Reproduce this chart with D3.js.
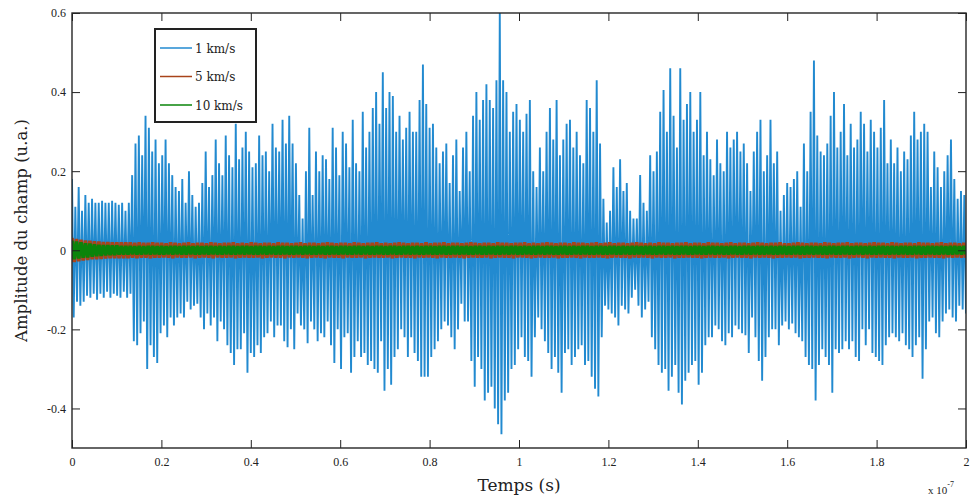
<!DOCTYPE html>
<html>
<head>
<meta charset="utf-8">
<script src="https://cdn.jsdelivr.net/npm/d3@7"></script>
<style>
  body { margin: 0; background: #fff; }
</style>
</head>
<body>
<div id="container"></div>
<script>
console.log("script loaded");

///////////////////////////

let w = 975;
let h = 495;
let plotLeft = 72;
let plotRight = 966;
let plotTop = 13;
let plotBottom = 448;

let xTicks = [0, 0.2, 0.4, 0.6, 0.8, 1, 1.2, 1.4, 1.6, 1.8, 2];
let xTickLabels = ["0", "0.2", "0.4", "0.6", "0.8", "1", "1.2", "1.4", "1.6", "1.8", "2"];
let yTicks = [-0.4, -0.2, 0, 0.2, 0.4, 0.6];
let yTickLabels = ["-0.4", "-0.2", "0", "0.2", "0.4", "0.6"];

let seriesNames = ["1 km/s", "5 km/s", "10 km/s"];

// 1 km/s : successive upper / lower peaks (u.a.), read across 0..2 x10^-7 s
let blueHi = [
  0.18,0.11,0.16,0.10,0.14,0.12,0.13,0.12,0.12,0.125,0.12,0.12,0.125,0.12,0.115,0.12,0.10,0.12,0.19,0.27,0.29,0.24,0.34,0.31,0.25,0.28,0.22,0.24,0.28,0.22,0.19,0.16,
  0.15,0.18,0.12,0.20,0.14,0.11,0.12,0.17,0.25,0.16,0.19,0.28,0.22,0.19,0.29,0.24,0.21,0.32,0.23,0.26,0.30,0.25,0.21,0.22,0.29,0.24,0.25,0.20,0.32,0.26,0.25,0.33,0.27,0.34,0.27,
  0.22,0.14,0.08,0.20,0.31,0.14,0.25,0.20,0.24,0.23,0.18,0.31,0.26,0.19,0.30,0.27,0.21,0.33,0.22,0.20,0.35,0.26,0.30,0.36,0.40,0.32,0.45,0.36,0.40,0.39,0.30,0.34,0.28,0.31,
  0.35,0.30,0.30,0.38,0.47,0.37,0.31,0.32,0.26,0.22,0.25,0.27,0.17,0.24,0.28,0.15,0.26,0.30,0.20,0.34,0.40,0.33,0.38,0.42,0.38,0.36,0.43,0.60,0.43,0.40,0.30,0.35,0.37,0.33,
  0.30,0.345,0.38,0.20,0.16,0.26,0.20,0.30,0.36,0.28,0.38,0.24,0.28,0.32,0.33,0.26,0.30,0.24,0.22,0.38,0.36,0.30,0.43,0.27,0.13,0.07,0.10,0.21,0.16,0.23,0.15,0.17,0.10,0.08,
  0.08,0.19,0.12,0.10,0.24,0.20,0.25,0.35,0.405,0.30,0.46,0.34,0.26,0.46,0.33,0.37,0.40,0.30,0.33,0.40,0.24,0.30,0.23,0.19,0.28,0.22,0.20,0.30,0.26,0.28,0.30,0.25,0.27,0.22,
  0.15,0.25,0.30,0.33,0.20,0.24,0.33,0.22,0.25,0.10,0.14,0.17,0.16,0.18,0.20,0.11,0.27,0.20,0.35,0.48,0.29,0.25,0.24,0.27,0.34,0.40,0.26,0.30,0.37,0.24,0.32,0.26,0.28,0.35,
  0.32,0.25,0.33,0.30,0.26,0.31,0.38,0.22,0.28,0.22,0.26,0.20,0.25,0.23,0.29,0.35,0.28,0.30,0.32,0.30,0.16,0.25,0.21,0.16,0.20,0.24,0.28,0.18,0.13,0.15,0.14
];
let blueLo = [
  -0.17,-0.13,-0.14,-0.13,-0.115,-0.12,-0.11,-0.125,-0.11,-0.12,-0.105,-0.12,-0.11,-0.115,-0.12,-0.105,-0.12,-0.11,-0.23,-0.24,-0.21,-0.18,-0.30,-0.24,-0.27,-0.285,-0.21,-0.19,-0.22,-0.17,-0.19,-0.17,
  -0.16,-0.17,-0.13,-0.15,-0.14,-0.135,-0.17,-0.20,-0.16,-0.19,-0.17,-0.23,-0.18,-0.20,-0.24,-0.26,-0.29,-0.25,-0.25,-0.21,-0.31,-0.26,-0.27,-0.24,-0.26,-0.22,-0.21,-0.18,-0.22,-0.19,-0.19,-0.23,-0.245,-0.20,-0.25,
  -0.16,-0.19,-0.20,-0.235,-0.18,-0.20,-0.23,-0.21,-0.22,-0.18,-0.24,-0.285,-0.20,-0.30,-0.22,-0.21,-0.31,-0.27,-0.23,-0.27,-0.26,-0.29,-0.28,-0.30,-0.31,-0.23,-0.355,-0.30,-0.34,-0.27,-0.25,-0.20,-0.22,-0.27,
  -0.22,-0.26,-0.28,-0.32,-0.32,-0.32,-0.27,-0.25,-0.23,-0.20,-0.18,-0.19,-0.22,-0.25,-0.20,-0.135,-0.18,-0.18,-0.28,-0.345,-0.27,-0.30,-0.38,-0.36,-0.345,-0.40,-0.44,-0.465,-0.38,-0.36,-0.30,-0.29,-0.25,-0.22,
  -0.27,-0.28,-0.32,-0.22,-0.17,-0.20,-0.23,-0.26,-0.30,-0.27,-0.31,-0.36,-0.26,-0.25,-0.29,-0.27,-0.25,-0.24,-0.29,-0.28,-0.32,-0.35,-0.37,-0.22,-0.14,-0.15,-0.16,-0.17,-0.19,-0.14,-0.15,-0.16,-0.12,-0.10,
  -0.14,-0.17,-0.15,-0.13,-0.22,-0.25,-0.29,-0.31,-0.30,-0.355,-0.32,-0.29,-0.36,-0.39,-0.33,-0.31,-0.29,-0.28,-0.34,-0.31,-0.24,-0.22,-0.22,-0.19,-0.20,-0.23,-0.24,-0.21,-0.22,-0.19,-0.20,-0.21,-0.215,-0.26,
  -0.17,-0.22,-0.28,-0.33,-0.27,-0.22,-0.20,-0.20,-0.24,-0.19,-0.18,-0.20,-0.185,-0.21,-0.22,-0.23,-0.27,-0.29,-0.30,-0.38,-0.29,-0.25,-0.27,-0.29,-0.36,-0.25,-0.26,-0.25,-0.23,-0.25,-0.23,-0.27,-0.28,-0.20,
  -0.24,-0.20,-0.26,-0.27,-0.28,-0.29,-0.24,-0.22,-0.21,-0.22,-0.23,-0.21,-0.24,-0.25,-0.27,-0.24,-0.22,-0.325,-0.25,-0.18,-0.17,-0.21,-0.22,-0.18,-0.16,-0.15,-0.17,-0.18,-0.14,-0.15,-0.16
];

// 5 km/s : upper / lower peaks in 1e-3 u.a.
let redHi = [
  31,29,27,25,24,23,22,21,21,20,20,20,20,20,19,20,19,19,20,19,
  19,18,20,19,18,19,20,18,19,19,18,20,19,18,19,19,20,18,19,18,
  20,19,18,19,19,18,20,19,19,18,19,20,18,19,19,18,19,20,19,18,
  19,19,18,20,19,18,19,19,20,18,19,18,19,20,19,18,19,19,18,20,
  18,19,19,20,18,19,19,18,19,20,19,18,19,19,18,20,19,19,18,19,
  19,20,18,19,18,19,20,19,18,19,19,18,20,19,19,18,19,20,18,19,
  20,18,19,19,18,19,20,19,18,19,18,20,19,19,18,19,19,20,18,19,
  19,18,20,19,19,18,19,20,18,19,19,18,19,20,19,18,19,19,20,18,
  18,19,20,19,18,19,19,18,20,19,18,19,19,20,18,19,19,18,19,20,
  19,19,18,20,19,18,19,19,18,20,19,19,18,19,20,18,19,19,18,19
];
let redLo = [
  -30,-28,-26,-25,-23,-23,-22,-21,-20,-20,-20,-20,-20,-19,-20,-19,-19,-20,-19,-19,
  -18,-19,-20,-18,-19,-19,-18,-20,-19,-18,-19,-20,-18,-19,-19,-18,-20,-19,-18,-19,
  -19,-18,-20,-19,-18,-19,-19,-20,-18,-19,-18,-19,-20,-19,-18,-19,-20,-18,-19,-19,
  -20,-18,-19,-19,-18,-20,-19,-18,-19,-19,-18,-20,-19,-18,-19,-19,-20,-18,-19,-18,
  -19,-20,-18,-19,-19,-18,-19,-20,-19,-18,-19,-19,-18,-20,-19,-18,-19,-19,-20,-18,
  -18,-19,-20,-19,-18,-19,-19,-18,-20,-19,-19,-18,-19,-20,-18,-19,-19,-18,-19,-20,
  -19,-18,-19,-19,-20,-18,-19,-18,-19,-20,-18,-19,-19,-18,-20,-19,-19,-18,-19,-19,
  -20,-19,-18,-19,-19,-18,-20,-19,-18,-19,-19,-20,-18,-19,-18,-19,-20,-19,-19,-18,
  -19,-18,-20,-19,-19,-18,-19,-19,-20,-18,-19,-19,-18,-20,-19,-18,-19,-20,-18,-19,
  -18,-19,-19,-20,-18,-19,-19,-18,-20,-19,-19,-18,-19,-19,-20,-18,-19,-18,-19,-19
];

// 10 km/s : upper / lower peaks in 1e-3 u.a.
let greenHi = [
  24,22,20,18,17,15,14,13,13,12,12,11,11,11,10,11,10,11,11,10,
  11,10,11,11,10,11,11,10,11,10,11,11,10,11,10,11,11,10,11,11,
  10,11,11,10,11,10,11,11,10,11,11,10,11,11,10,11,10,11,11,10,
  11,11,10,11,11,10,11,10,11,11,10,11,11,10,11,11,10,11,10,11,
  11,10,11,11,10,11,11,10,11,10,11,11,10,11,10,11,11,10,11,11,
  10,11,10,11,11,10,11,11,10,11,11,10,11,10,11,11,10,11,11,10,
  11,11,10,11,10,11,11,10,11,11,10,11,11,10,11,10,11,11,10,11,
  11,10,11,11,10,11,10,11,11,10,11,11,10,11,11,10,11,10,11,11,
  10,11,11,10,11,11,10,11,10,11,11,10,11,11,10,11,11,10,11,10,
  11,11,10,11,10,11,11,10,11,11,10,11,11,10,11,10,11,11,10,11
];
let greenLo = [
  -23,-21,-19,-18,-16,-15,-14,-13,-12,-12,-11,-11,-11,-10,-11,-11,-10,-11,-10,-11,
  -11,-10,-11,-10,-11,-11,-10,-11,-11,-10,-11,-10,-11,-11,-10,-11,-11,-10,-11,-10,
  -11,-11,-10,-11,-10,-11,-11,-10,-11,-11,-10,-11,-10,-11,-11,-10,-11,-11,-10,-11,
  -10,-11,-11,-10,-11,-10,-11,-11,-10,-11,-11,-10,-11,-11,-10,-11,-10,-11,-11,-10,
  -11,-11,-10,-11,-11,-10,-11,-10,-11,-11,-10,-11,-11,-10,-11,-11,-10,-11,-10,-11,
  -11,-10,-11,-11,-10,-11,-10,-11,-11,-10,-11,-11,-10,-11,-10,-11,-11,-10,-11,-11,
  -10,-11,-11,-10,-11,-11,-10,-11,-10,-11,-11,-10,-11,-10,-11,-11,-10,-11,-11,-10,
  -11,-11,-10,-11,-10,-11,-11,-10,-11,-11,-10,-11,-10,-11,-11,-10,-11,-11,-10,-11,
  -11,-10,-11,-11,-10,-11,-10,-11,-11,-10,-11,-11,-10,-11,-11,-10,-11,-10,-11,-11,
  -10,-11,-11,-10,-11,-10,-11,-11,-10,-11,-11,-10,-11,-11,-10,-11,-11,-10,-11,-10
];

let blueColor = "#228ad0";
let redColor = "#a8441a";
let greenColor = "#0a840a";

///////////////////////////

// puts hi/lo peaks one after the other, evenly spread over 0..2 (x10^-7 s)
function zigzag(hi, lo, unit) {
  let vals = [];
  for (let i = 0; i < hi.length; i++) {
    vals.push(hi[i] * unit);
    vals.push(lo[i] * unit);
  }
  return vals.map(function(v, k) {
    return { t: k / (vals.length - 1) * 2, v: v };
  });
}

let blueData = zigzag(blueHi, blueLo, 1);
let redData = zigzag(redHi, redLo, 0.001);
let greenData = zigzag(greenHi, greenLo, 0.001);

let viz = d3.select("#container").append("svg")
  .attr("width", w)
  .attr("height", h)
  .style("background-color", "white")
;

let xScale = d3.scaleLinear().domain([0, 2]).range([plotLeft, plotRight]);
let yScale = d3.scaleLinear().domain([-0.5, 0.6]).range([plotBottom, plotTop]);

viz.append("clipPath").attr("id", "plotclip")
  .append("rect")
    .attr("x", plotLeft)
    .attr("y", plotTop)
    .attr("width", plotRight - plotLeft)
    .attr("height", plotBottom - plotTop)
;

let lineGen = d3.line()
  .x(function(d){ return xScale(d.t); })
  .y(function(d){ return yScale(d.v); })
;

let lines = viz.append("g").attr("clip-path", "url(#plotclip)");

lines.append("path")
  .datum(blueData)
  .attr("d", lineGen)
  .attr("fill", "none")
  .attr("stroke", blueColor)
  .attr("stroke-width", 1.9)
  .attr("stroke-miterlimit", 1)
;
lines.append("path")
  .datum(redData)
  .attr("d", lineGen)
  .attr("fill", "none")
  .attr("stroke", redColor)
  .attr("stroke-width", 3.6)
  .attr("stroke-miterlimit", 1)
;
lines.append("path")
  .datum(greenData)
  .attr("d", lineGen)
  .attr("fill", "none")
  .attr("stroke", greenColor)
  .attr("stroke-width", 3.6)
  .attr("stroke-miterlimit", 1)
;

// axes, ticks pointing inwards on all four sides
let tickLen = 8;

let xAxisBottom = d3.axisBottom(xScale)
  .tickValues(xTicks)
  .tickFormat(function(d, i){ return xTickLabels[i]; })
  .tickSizeInner(-tickLen)
  .tickSizeOuter(0)
  .tickPadding(9);
let xAxisTop = d3.axisTop(xScale)
  .tickValues(xTicks)
  .tickFormat("")
  .tickSizeInner(-tickLen)
  .tickSizeOuter(0);
let yAxisLeft = d3.axisLeft(yScale)
  .tickValues(yTicks)
  .tickFormat(function(d, i){ return yTickLabels[i]; })
  .tickSizeInner(-tickLen)
  .tickSizeOuter(0)
  .tickPadding(6);
let yAxisRight = d3.axisRight(yScale)
  .tickValues(yTicks)
  .tickFormat("")
  .tickSizeInner(-tickLen)
  .tickSizeOuter(0);

viz.append("g").attr("transform", "translate(0," + plotBottom + ")").call(xAxisBottom);
viz.append("g").attr("transform", "translate(0," + plotTop + ")").call(xAxisTop);
viz.append("g").attr("transform", "translate(" + plotLeft + ",0)").call(yAxisLeft);
viz.append("g").attr("transform", "translate(" + plotRight + ",0)").call(yAxisRight);

viz.selectAll(".domain").remove();
viz.selectAll(".tick line").attr("stroke", "#222").attr("stroke-width", 1);
viz.selectAll(".tick text")
  .attr("font-family", "'Liberation Serif', serif")
  .attr("font-size", 12)
  .attr("fill", "#222");

viz.append("rect")
  .attr("x", plotLeft)
  .attr("y", plotTop)
  .attr("width", plotRight - plotLeft)
  .attr("height", plotBottom - plotTop)
  .attr("fill", "none")
  .attr("stroke", "#262626")
  .attr("stroke-width", 1.4)
;

// axis titles
viz.append("text")
  .attr("x", (plotLeft + plotRight) / 2)
  .attr("y", 491)
  .attr("text-anchor", "middle")
  .attr("font-family", "'DejaVu Serif', serif")
  .attr("font-size", 17)
  .attr("fill", "#222")
  .text("Temps (s)");

viz.append("text")
  .attr("transform", "translate(27," + ((plotTop + plotBottom) / 2) + ") rotate(-90)")
  .attr("text-anchor", "middle")
  .attr("font-family", "'DejaVu Serif', serif")
  .attr("font-size", 16.5)
  .attr("fill", "#222")
  .text("Amplitude du champ (u.a.)");

let expLabel = viz.append("text")
  .attr("x", 928)
  .attr("y", 494)
  .attr("font-family", "'Liberation Serif', serif")
  .attr("font-size", 11)
  .attr("fill", "#222");
expLabel.append("tspan").text("x 10");
expLabel.append("tspan").attr("dy", -7).attr("font-size", 8).text("-7");

// legend
let legend = viz.append("g").attr("transform", "translate(155,29)");
legend.append("rect")
  .attr("width", 101)
  .attr("height", 93)
  .attr("fill", "white")
  .attr("stroke", "#222")
  .attr("stroke-width", 2)
;
let legendColors = [blueColor, redColor, greenColor];
let legendRows = legend.selectAll(".legendrow").data(seriesNames)
  .enter()
    .append("g")
    .attr("class", "legendrow")
    .attr("transform", function(d, i){ return "translate(0," + (19 + i * 28.5) + ")"; })
;
legendRows.append("line")
  .attr("x1", 5)
  .attr("x2", 37)
  .attr("stroke", function(d, i){ return legendColors[i]; })
  .attr("stroke-width", 1.5)
;
legendRows.append("text")
  .attr("x", 40)
  .attr("y", 4.5)
  .attr("font-family", "'DejaVu Serif', serif")
  .attr("font-size", 12)
  .attr("fill", "#222")
  .text(function(d){ return d; })
;

console.log("loaded");
</script>
</body>
</html>
